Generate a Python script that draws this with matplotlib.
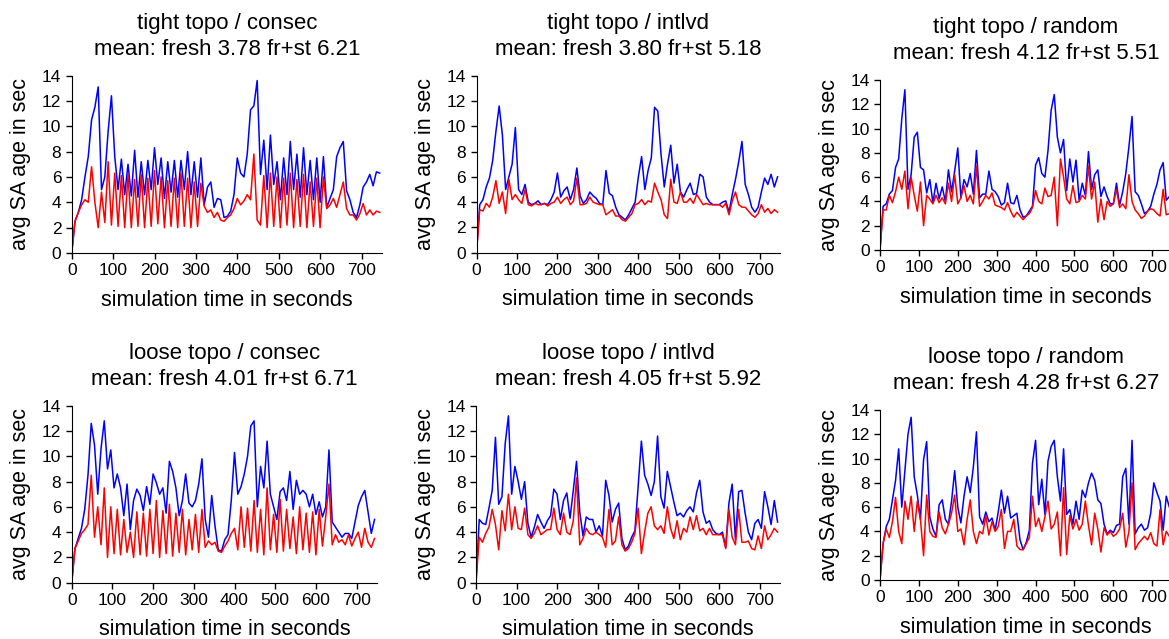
import numpy as np
import matplotlib
matplotlib.use("Agg")
import matplotlib.pyplot as plt

plt.rcParams["font.family"] = ["Liberation Sans", "DejaVu Sans"]

# simulation time grid (seconds)
t = np.arange(0, 750, 8)

# tight topo / consec
tc_b = [0, 2.5, 3.2, 4.2, 6.0, 7.6, 10.5, 11.5, 13.1, 5.0,
        6.0, 9.6, 12.4, 7.6, 5.0, 7.4, 4.6, 7.0, 4.5, 8.1,
        4.4, 7.2, 4.6, 7.3, 5.0, 8.3, 5.4, 7.5, 4.3, 7.2,
        4.8, 7.3, 4.4, 7.3, 5.0, 8.0, 4.6, 7.2, 4.4, 7.5,
        3.8, 5.2, 5.6, 3.6, 4.3, 4.2, 2.8, 2.9, 3.3, 4.6,
        7.5, 6.3, 6.0, 7.8, 11.3, 11.6, 13.6, 6.2, 8.9, 5.0,
        9.3, 5.4, 7.2, 4.2, 7.5, 4.6, 8.8, 5.0, 7.8, 4.4,
        8.3, 4.6, 7.3, 4.2, 7.5, 4.0, 7.6, 3.6, 4.3, 5.0,
        7.6, 8.3, 8.8, 4.9, 4.2, 3.2, 2.8, 3.8, 5.2, 5.6,
        6.2, 5.3, 6.4, 6.3]
tc_r = [0, 2.5, 3.2, 3.8, 4.2, 4.0, 6.8, 4.0, 2.0, 4.8,
        2.4, 7.2, 2.2, 6.3, 2.1, 6.1, 2.0, 6.2, 2.0, 5.8,
        2.1, 6.2, 2.0, 5.9, 2.1, 6.5, 2.3, 6.0, 2.0, 5.7,
        2.1, 5.9, 2.0, 6.3, 2.1, 5.9, 2.0, 5.6, 2.1, 5.5,
        3.7, 3.2, 3.4, 2.8, 3.2, 2.6, 2.5, 2.8, 3.0, 3.5,
        4.3, 3.8, 4.1, 4.6, 4.2, 7.8, 2.6, 2.2, 6.1, 2.0,
        6.3, 2.1, 6.0, 2.0, 5.9, 2.2, 6.3, 2.0, 5.8, 2.1,
        6.2, 2.0, 5.6, 2.1, 5.9, 2.0, 6.0, 3.5, 3.8, 4.3,
        3.6, 4.6, 5.6, 3.5, 3.0, 3.0, 2.6, 3.1, 3.9, 3.0,
        3.4, 3.0, 3.3, 3.2]

# tight topo / intlvd
ti_b = [0, 3.8, 4.2, 5.2, 5.9, 7.3, 9.6, 11.6, 9.3, 5.0,
        6.0, 7.0, 9.9, 5.0, 4.6, 5.4, 4.0, 3.8, 3.9, 4.1,
        3.8, 3.9, 3.8, 4.2, 4.8, 6.3, 4.4, 4.9, 5.2, 4.2,
        5.0, 6.7, 4.5, 3.9, 4.2, 4.8, 4.5, 4.3, 3.9, 3.8,
        6.5, 4.7, 4.5, 3.6, 3.0, 2.8, 2.6, 3.0, 3.5, 4.0,
        6.0, 7.6, 5.0, 6.5, 7.5, 11.5, 11.2, 7.8, 5.2, 7.0,
        8.5, 5.5, 7.0, 4.8, 4.4, 5.0, 5.5, 4.6, 4.7, 6.2,
        6.0, 4.4, 4.0, 3.8, 3.8, 3.8, 4.0, 4.1, 3.2, 4.6,
        5.8, 7.2, 8.8, 5.4, 4.6, 3.6, 3.2, 3.6, 4.8, 5.9,
        5.4, 6.2, 5.2, 6.0]
ti_r = [0, 3.4, 3.3, 3.9, 3.6, 4.4, 5.7, 3.9, 4.8, 3.1,
        5.8, 4.2, 4.6, 4.2, 3.9, 5.0, 3.8, 3.7, 3.9, 3.8,
        3.8, 3.9, 3.7, 3.9, 4.0, 4.4, 3.9, 4.2, 4.4, 3.8,
        4.1, 5.9, 3.8, 3.8, 3.9, 4.4, 4.0, 3.9, 3.8, 3.8,
        3.0, 3.2, 3.4, 2.9, 2.9, 2.6, 2.5, 2.8, 3.1, 3.8,
        3.9, 4.2, 3.8, 4.1, 4.0, 5.5, 4.8, 4.2, 3.0, 2.7,
        5.8, 4.0, 3.9, 4.8, 4.0, 4.0, 4.3, 3.9, 4.6, 4.2,
        3.8, 3.9, 3.8, 3.8, 3.8, 3.8, 3.6, 3.9, 3.0, 4.1,
        4.8, 3.8, 3.6, 3.6, 3.3, 3.0, 2.8, 3.1, 3.8, 3.2,
        3.5, 3.1, 3.4, 3.2]

# tight topo / random
tr_b = [0, 3.6, 3.8, 4.6, 4.9, 6.8, 7.5, 10.8, 13.2, 5.0,
        6.2, 9.3, 9.7, 6.8, 6.6, 4.7, 5.8, 3.9, 5.5, 4.2,
        5.2, 4.0, 6.6, 4.8, 6.5, 8.4, 4.3, 5.8, 5.2, 6.3,
        4.6, 8.2, 4.3, 4.6, 4.6, 6.5, 5.0, 4.8, 4.4, 3.7,
        3.9, 5.5, 3.9, 3.8, 4.5, 3.3, 2.7, 2.8, 3.2, 3.6,
        7.0, 7.6, 6.3, 6.0, 8.2, 11.5, 12.8, 9.3, 8.0, 9.1,
        4.9, 7.5, 5.6, 7.4, 4.1, 5.5, 4.5, 8.1, 5.0, 6.2,
        6.6, 4.4, 5.2, 4.4, 3.8, 3.8, 5.5, 3.7, 4.8, 6.3,
        8.5, 11.0, 4.8, 4.5, 3.8, 3.0, 3.2, 3.6, 4.6, 5.4,
        6.6, 7.2, 4.1, 4.4]
tr_r = [0, 3.3, 3.3, 4.5, 3.9, 4.8, 6.0, 5.0, 6.5, 3.4,
        6.0, 4.5, 3.2, 5.6, 2.0, 4.5, 4.2, 3.8, 4.5, 3.9,
        4.3, 3.8, 5.5, 4.0, 6.2, 3.8, 4.3, 5.3, 4.0, 4.5,
        3.8, 6.9, 3.6, 4.0, 4.5, 4.2, 4.7, 3.7, 3.6, 3.5,
        3.3, 3.9, 3.2, 2.7, 3.1, 2.8, 2.5, 2.8, 3.0, 3.5,
        4.9, 4.0, 3.8, 5.1, 4.4, 4.5, 6.0, 2.0, 7.5, 6.0,
        4.2, 3.8, 5.3, 3.9, 4.0, 4.5, 4.2, 6.9, 4.2, 5.6,
        2.3, 4.2, 2.5, 4.0, 3.6, 3.8, 5.0, 3.5, 3.8, 3.4,
        6.2, 4.0, 3.3, 3.0, 2.6, 2.8, 3.2, 3.4, 3.3, 3.0,
        2.8, 5.0, 2.9, 3.0]

# loose topo / consec
lc_b = [0, 2.7, 3.5, 4.3, 5.8, 8.5, 12.6, 10.9, 7.0, 10.6,
        12.8, 9.0, 10.5, 7.5, 8.6, 7.5, 5.3, 7.8, 4.2, 6.5,
        7.4, 6.9, 5.7, 7.6, 6.2, 8.6, 7.9, 7.0, 7.5, 5.5,
        9.6, 8.8, 7.5, 5.3, 6.5, 8.6, 6.3, 6.0, 6.5, 7.8,
        9.8, 5.0, 3.6, 6.9, 4.5, 2.6, 2.5, 3.4, 3.8, 6.5,
        10.3, 7.0, 7.6, 8.6, 10.0, 12.4, 12.8, 6.0, 9.2, 7.5,
        11.2, 7.0, 6.0, 5.0, 7.2, 7.5, 6.5, 8.8, 5.8, 8.1,
        7.0, 7.3, 7.0, 6.0, 7.0, 5.4, 6.4, 5.2, 6.0, 10.5,
        4.8, 4.4, 4.0, 3.6, 3.9, 3.9, 3.5, 4.8, 6.1, 6.8,
        7.3, 5.6, 3.9, 5.0]
lc_r = [0, 2.7, 3.3, 3.9, 4.2, 4.6, 8.5, 3.6, 6.0, 3.0,
        7.5, 2.0, 6.0, 2.3, 5.8, 2.2, 5.0, 2.4, 4.0, 2.0,
        5.6, 2.2, 5.5, 2.1, 5.8, 2.3, 6.5, 2.0, 5.7, 2.3,
        6.2, 2.1, 5.5, 2.4, 5.8, 2.2, 5.0, 2.6, 5.4, 2.4,
        5.8, 2.8, 3.3, 3.0, 3.2, 2.5, 2.4, 2.9, 3.3, 3.9,
        4.3, 2.6, 6.0, 2.8, 5.9, 2.5, 6.5, 2.4, 5.8, 2.2,
        7.5, 2.6, 5.4, 2.4, 6.6, 2.5, 5.8, 2.7, 5.2, 2.3,
        6.0, 2.6, 5.5, 2.4, 5.6, 2.2, 5.8, 2.9, 5.2, 7.8,
        3.0, 3.8, 3.2, 3.4, 3.0, 3.8, 2.9, 3.5, 4.0, 2.8,
        4.3, 3.2, 2.8, 3.5]

# loose topo / intlvd
li_b = [0, 5.0, 4.7, 4.6, 5.9, 7.3, 11.5, 6.2, 6.8, 11.0,
        13.2, 7.0, 9.2, 8.0, 6.6, 8.0, 4.7, 3.6, 4.4, 5.4,
        4.8, 4.3, 4.9, 5.3, 7.4, 7.0, 5.0, 6.5, 7.1, 5.1,
        7.3, 9.6, 5.6, 3.7, 5.2, 5.0, 5.0, 4.0, 4.5, 3.7,
        8.1, 6.9, 4.8, 5.8, 6.3, 3.5, 2.6, 2.9, 3.6, 4.1,
        7.6, 11.2, 8.5, 7.8, 6.9, 8.0, 11.6, 6.8, 5.9, 8.8,
        7.6, 6.4, 5.3, 5.5, 5.2, 5.7, 6.0, 5.6, 7.1, 8.1,
        5.6, 4.7, 4.9, 4.2, 3.9, 3.8, 4.0, 2.8, 6.3, 7.8,
        3.4, 7.2, 7.3, 5.5, 4.0, 3.4, 4.7, 5.0, 4.3, 7.2,
        6.0, 4.6, 6.5, 4.8]
li_r = [0, 3.6, 3.2, 3.9, 4.4, 5.8, 4.6, 2.6, 5.7, 4.1,
        7.0, 4.2, 6.0, 4.3, 4.2, 5.9, 3.8, 3.5, 3.9, 4.5,
        3.8, 4.0, 4.2, 4.2, 5.9, 4.2, 3.8, 5.5, 4.0, 3.8,
        4.9, 8.3, 3.0, 3.5, 4.3, 3.9, 3.8, 4.0, 3.8, 3.6,
        2.8, 5.8, 3.0, 3.3, 5.2, 3.0, 2.5, 2.7, 3.2, 3.9,
        5.9, 2.3, 4.0, 5.5, 6.0, 4.5, 4.2, 4.5, 3.9, 6.0,
        4.3, 3.5, 4.9, 3.4, 4.3, 4.0, 5.2, 4.2, 5.3, 4.1,
        4.3, 3.8, 4.3, 3.8, 3.8, 3.8, 3.8, 2.7, 5.8, 3.6,
        3.0, 5.8, 3.2, 3.2, 3.3, 2.7, 2.6, 3.7, 2.7, 4.5,
        3.4, 3.8, 4.3, 4.0]

# loose topo / random
lr_b = [0, 3.0, 4.4, 5.0, 6.6, 8.2, 10.8, 6.0, 9.0, 12.0,
        13.4, 8.5, 7.0, 5.0, 9.9, 11.4, 5.2, 4.2, 3.6, 6.2,
        6.6, 5.0, 4.6, 6.5, 9.0, 6.0, 4.7, 6.9, 8.5, 7.2,
        9.3, 12.2, 5.2, 4.6, 5.6, 4.8, 5.1, 4.1, 5.6, 7.4,
        5.5, 6.9, 5.1, 5.3, 5.5, 3.3, 2.5, 3.1, 4.1, 9.6,
        11.5, 6.2, 8.3, 5.4, 9.8, 11.0, 11.5, 8.5, 6.5, 10.8,
        5.4, 5.8, 4.6, 6.5, 5.0, 7.4, 6.8, 8.0, 8.8, 8.2,
        6.6, 6.3, 4.6, 3.8, 4.1, 3.9, 4.5, 4.6, 8.5, 9.2,
        4.6, 11.5, 3.8, 4.3, 4.6, 4.1, 4.3, 5.5, 8.0, 7.2,
        6.5, 4.1, 6.9, 6.0]
lr_r = [0, 3.0, 4.2, 3.5, 4.8, 6.8, 4.0, 3.0, 6.5, 5.0,
        6.9, 4.0, 6.5, 5.0, 2.0, 7.0, 4.0, 3.6, 3.5, 5.6,
        4.3, 3.8, 4.6, 5.5, 7.0, 4.0, 4.2, 2.9, 5.0, 6.6,
        4.0, 3.0, 4.0, 3.8, 5.3, 3.7, 4.8, 4.0, 4.4, 5.8,
        2.6, 4.0, 4.0, 5.0, 2.8, 2.5, 2.5, 3.0, 3.5, 6.9,
        4.4, 5.1, 4.0, 5.2, 6.5, 4.2, 4.6, 5.6, 2.0, 7.6,
        2.1, 5.3, 4.2, 5.0, 4.1, 4.6, 6.5, 4.5, 2.9, 5.5,
        4.2, 2.3, 4.3, 3.7, 4.0, 3.6, 3.8, 4.2, 5.5, 2.7,
        4.0, 8.0, 2.5, 3.0, 3.3, 3.6, 3.3, 3.9, 3.0, 2.8,
        5.8, 2.9, 4.0, 3.6]

titles = ["tight topo / consec\nmean: fresh 3.78 fr+st 6.21",
          "tight topo / intlvd\nmean: fresh 3.80 fr+st 5.18",
          "tight topo / random\nmean: fresh 4.12 fr+st 5.51",
          "loose topo / consec\nmean: fresh 4.01 fr+st 6.71",
          "loose topo / intlvd\nmean: fresh 4.05 fr+st 5.92",
          "loose topo / random\nmean: fresh 4.28 fr+st 6.27"]
series = [(tc_b, tc_r), (ti_b, ti_r), (tr_b, tr_r),
          (lc_b, lc_r), (li_b, li_r), (lr_b, lr_r)]

W, H = 1169, 639
# axes boxes in pixels: x at t=0, x at t=750, y at 0, y at 14
boxes = [(71.7, 382.2, 253.0, 75.5),
         (476.5, 780.0, 252.7, 75.7),
         (880.0, 1171.7, 250.0, 80.0),
         (71.7, 377.0, 582.7, 405.7),
         (476.0, 780.0, 582.7, 405.7),
         (880.0, 1171.7, 580.0, 410.0)]

fig = plt.figure(figsize=(W / 100, H / 100), dpi=100)

for (x0, x1, y0, y1), title, (blue, red) in zip(boxes, titles, series):
    ax = fig.add_axes([x0 / W, 1 - y0 / H, (x1 - x0) / W, (y0 - y1) / H])
    ax.plot(t, blue, color="#0000ff", lw=1.1)
    ax.plot(t, red, color="#ff0000", lw=1.1)
    ax.set_xlim(0, 750)
    ax.set_ylim(0, 14)
    ax.set_xticks(range(0, 701, 100))
    ax.set_yticks(range(0, 15, 2))
    for s in ["top", "right"]:
        ax.spines[s].set_visible(False)
    ax.tick_params(direction="out", length=4, width=1, labelsize=12.5, pad=3.5)
    ax.set_xlabel("simulation time in seconds", fontsize=15.5, labelpad=8)
    ax.set_ylabel("avg SA age in sec", fontsize=15.5, labelpad=7.5)
    ax.set_title(title, fontsize=16, pad=15, linespacing=1.3)

fig.savefig("out.png", dpi=100)
